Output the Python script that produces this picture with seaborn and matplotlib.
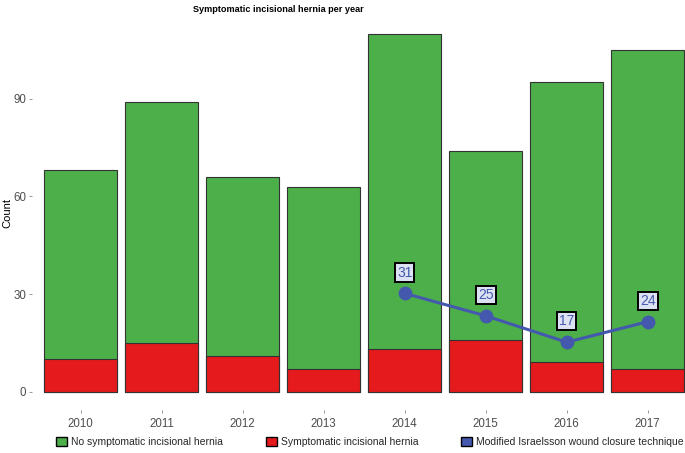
import matplotlib
matplotlib.use('Agg')
import matplotlib.pyplot as plt
import seaborn as sns
import pandas as pd
from matplotlib.patches import Patch

years = ['2010', '2011', '2012', '2013', '2014', '2015', '2016', '2017']
total = [68, 89, 66, 63, 110, 74, 95, 105]
symptomatic = [10, 15, 11, 7, 13, 16, 9, 7]
line_years = ['2014', '2015', '2016', '2017']
line_values = [30.2, 23.3, 15.2, 21.5]
line_labels = ['31', '25', '17', '24']
y_ticks = [0, 30, 60, 90]
legend_labels = ['No symptomatic incisional hernia', 'Symptomatic incisional hernia',
                 'Modified Israelsson wound closure technique']

green = '#4DAF4A'
red = '#E41A1C'
blue = '#4459AD'

sns.set_theme(style='white')
plt.rcParams['font.family'] = ['Liberation Sans', 'DejaVu Sans']

df = pd.DataFrame({'year': years, 'total': total, 'symptomatic': symptomatic})

fig = plt.figure(figsize=(6.85, 4.53), dpi=100)
ax = fig.add_axes([32 / 685, 1 - 409.6 / 453, 1 - 32 / 685, (409.6 - 15.6) / 453])

sns.barplot(data=df, x='year', y='total', color=green, width=0.9, edgecolor='#333333',
            linewidth=0.8, saturation=1, ax=ax, zorder=2)
sns.barplot(data=df, x='year', y='symptomatic', color=red, width=0.9, edgecolor='#333333',
            linewidth=0.8, saturation=1, ax=ax, zorder=3)

xpos = [years.index(y) for y in line_years]
sns.lineplot(x=xpos, y=line_values, color=blue, linewidth=2.2, marker='o', markersize=10,
             markeredgewidth=0, ax=ax, zorder=5)
for x, v, lbl in zip(xpos, line_values, line_labels):
    ax.annotate(lbl, (x, v), xytext=(0, 15), textcoords='offset points', ha='center',
                va='center', fontsize=10, color=blue, zorder=6,
                bbox=dict(boxstyle='square,pad=0.15', facecolor='#DDE1F4', edgecolor='black',
                          linewidth=1.4))

ax.set_xlim(-0.6, 7.46)
ax.set_ylim(-5.5, 115.5)
ax.set_yticks(y_ticks)
ax.set_yticklabels([str(t) for t in y_ticks])
for s in ax.spines.values():
    s.set_visible(False)
ax.tick_params(axis='both', which='both', length=2, width=0.6, color='#888888',
               labelsize=8.3, labelcolor='#4D4D4D', pad=2, left=True, bottom=True)
ax.tick_params(axis='x', pad=4)
ax.set_xlabel('')
ax.set_ylabel('Count', fontsize=8, color='black')
ax.yaxis.set_label_coords(-20 / 653, 0.5)

fig.text(278 / 685, 1 - 10 / 453, 'Symptomatic incisional hernia per year', ha='center',
         va='center', fontsize=6.6, fontweight='bold', color='black')

handles = [Patch(facecolor=green, edgecolor='black', linewidth=1),
           Patch(facecolor=red, edgecolor='black', linewidth=1),
           Patch(facecolor=blue, edgecolor='black', linewidth=1)]
fig.legend(handles, legend_labels, loc='center', bbox_to_anchor=(370 / 685, 1 - 442 / 453),
           ncol=3, frameon=False, fontsize=7.5, handlelength=1.05, handleheight=1.05,
           handletextpad=0.4, columnspacing=4.1, borderaxespad=0)

fig.savefig('out.png', dpi=100)
